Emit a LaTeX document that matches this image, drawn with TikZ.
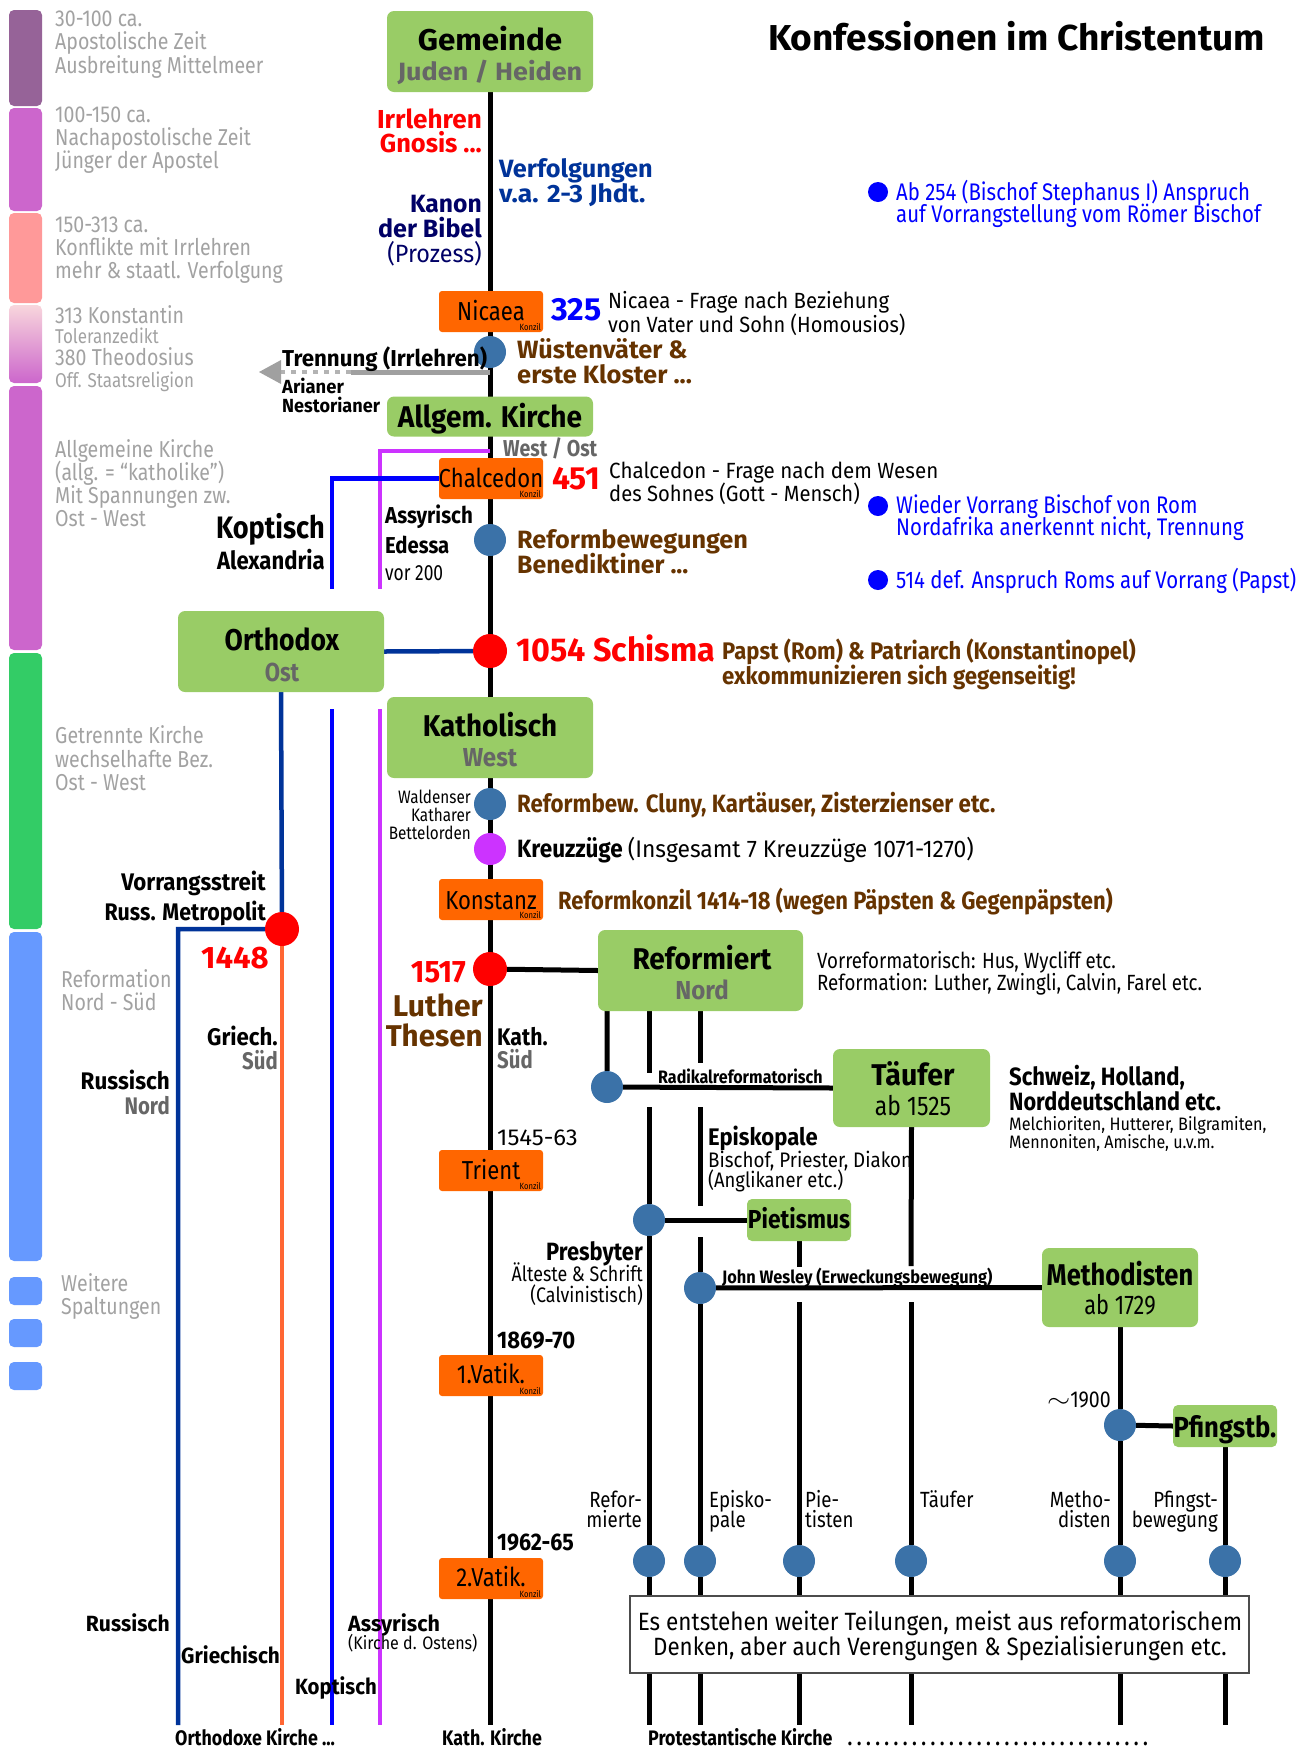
\documentclass[tikz,border=0pt]{standalone}
\usepackage{fontspec}
\usepackage{graphicx}
\setmainfont{Fira Sans}[FakeStretch=0.85]
\usetikzlibrary{arrows.meta}
\pgfdeclarelayer{bg}
\pgfsetlayers{bg,main}
\definecolor{gboxc}{HTML}{99CC66}
\definecolor{orgc}{HTML}{FF6600}
\definecolor{dotc}{HTML}{3B72A8}
\definecolor{brn}{HTML}{663300}
\definecolor{dgray}{HTML}{666666}
\definecolor{lgray}{HTML}{A2A2A2}
\definecolor{navyc}{HTML}{003399}
\definecolor{dnavy}{HTML}{000066}
\definecolor{purc}{HTML}{CC33FF}
\definecolor{olin}{HTML}{FF6633}
\definecolor{barA}{HTML}{966398}
\definecolor{barB}{HTML}{CC66CC}
\definecolor{barC}{HTML}{FF9999}
\definecolor{barD}{HTML}{F8D6DC}
\definecolor{barE}{HTML}{33CC66}
\definecolor{barF}{HTML}{6699FF}
\definecolor{arrg}{HTML}{A0A0A0}
\definecolor{redc}{HTML}{FF0000}
\definecolor{bluc}{HTML}{0000FF}
\newcommand\fR[1]{\fontsize{#1}{#1}\selectfont}
\newcommand\fB[1]{\fontsize{#1}{#1}\selectfont\bfseries}
\newcommand\sx[2]{\scalebox{#1}[1]{#2}}
\tikzset{
 gbox/.style={fill=gboxc, rounded corners=7pt, inner sep=0pt},
 obox/.style={fill=orgc, rounded corners=3pt, minimum width=104pt, minimum height=41pt, inner sep=0pt},
 bdot/.style={circle, fill=dotc, minimum size=32pt, inner sep=0pt},
 rdot/.style={circle, fill=redc, minimum size=34pt, inner sep=0pt},
 pdot/.style={circle, fill=purc, minimum size=32pt, inner sep=0pt},
 udot/.style={circle, fill=bluc, minimum size=20pt, inner sep=0pt},
 lt/.style={inner sep=0pt, anchor=base west},
 rt/.style={inner sep=0pt, anchor=base east},
 ct/.style={inner sep=0pt, anchor=base},
 per/.style={lt, lgray, font=\fR{23}},
 konz/.style={rt, font=\fR{9}},
 bl/.style={line width=5pt, black},
 cl/.style={line width=4.5pt},
}
\begin{document}
\begin{tikzpicture}[x=1pt,y=-1pt]
\useasboundingbox (0,0) rectangle (1312,1749);
% ---------- period bars ----------
\fill[barA, rounded corners=5pt] (9,10) rectangle (42,106);
\fill[barB, rounded corners=5pt] (9,108) rectangle (42,211);
\fill[barC, rounded corners=5pt] (9,213) rectangle (42,303);
\shade[top color=barD, bottom color=barB, rounded corners=5pt] (9,305) rectangle (42,383);
\fill[barB, rounded corners=5pt] (9,386) rectangle (42,650);
\fill[barE, rounded corners=5pt] (9,653) rectangle (42,929);
\fill[barF, rounded corners=5pt] (9,932) rectangle (42,1261);
\fill[barF, rounded corners=5pt] (9,1277) rectangle (42,1305);
\fill[barF, rounded corners=5pt] (9,1319) rectangle (42,1347);
\fill[barF, rounded corners=5pt] (9,1362) rectangle (42,1390);
% ---------- period texts ----------
\node[per] (p1a) at (55,26) {30-100 ca.};
\node[per] (p1b) at (55,49) {Apostolische Zeit};
\node[per] (p1c) at (55,73) {Ausbreitung Mittelmeer};
\node[per] (p2a) at (55,122) {100-150 ca.};
\node[per] (p2b) at (55,145) {Nachapostolische Zeit};
\node[per] (p2c) at (55,168) {Jünger der Apostel};
\node[per] (p3a) at (55,232) {150-313 ca.};
\node[per] (p3b) at (55,255) {Konflikte mit Irrlehren};
\node[per] (p3c) at (55,278) {mehr \& staatl. Verfolgung};
\node[per] (p4a) at (55,323) {313 Konstantin};
\node[per, font=\fR{20}] (p4b) at (55,343) {Toleranzedikt};
\node[per] (p4c) at (55,365) {380 Theodosius};
\node[per, font=\fR{20}] (p4d) at (55,387) {Off. Staatsreligion};
\node[per] (p5a) at (55,457) {Allgemeine Kirche};
\node[per] (p5b) at (55,480) {(allg. = “katholike”)};
\node[per] (p5c) at (55,503) {Mit Spannungen zw.};
\node[per] (p5d) at (55,526) {Ost - West};
\node[per] (p6a) at (55,743) {Getrennte Kirche};
\node[per] (p6b) at (55,767) {wechselhafte Bez.};
\node[per] (p6c) at (55,790) {Ost - West};
\node[per] (p7a) at (61,987) {Reformation};
\node[per] (p7b) at (61,1010) {Nord - Süd};
\node[per] (p8a) at (61,1291) {Weitere};
\node[per] (p8b) at (61,1314) {Spaltungen};
% ---------- title ----------
\node[lt, font=\fB{36}] (title) at (768,50) {\sx{1.21}{Konfessionen im Christentum}};
% ---------- main boxes ----------
\node[gbox, minimum width=206pt, minimum height=81pt] (gem) at (490,51.5) {};
\node[ct, font=\fB{30}] (gemt) at (490,50) {\sx{1.23}{Gemeinde}};
\node[ct, dgray, font=\fB{25}] (gems) at (490,80) {\sx{1.27}{Juden / Heiden}};
\node[gbox, minimum width=206pt, minimum height=40pt] (allg) at (490,416.5) {};
\node[ct, font=\fB{30}] (allgt) at (490,427) {\sx{1.1}{Allgem. Kirche}};
\node[gbox, minimum width=206pt, minimum height=81pt] (orth) at (281,651.5) {};
\node[ct, font=\fB{30}] (ortht) at (282,650) {\sx{1.04}{Orthodox}};
\node[ct, dgray, font=\fB{26}] (orths) at (282,681) {Ost};
\node[gbox, minimum width=206pt, minimum height=81pt] (kath) at (490,737.5) {};
\node[ct, font=\fB{30}] (katht) at (490,736) {\sx{1.09}{Katholisch}};
\node[ct, dgray, font=\fB{26}] (kaths) at (490,766) {\sx{1.09}{West}};
\node[gbox, minimum width=205pt, minimum height=81pt] (ref) at (700.5,970.5) {};
\node[ct, font=\fB{30}] (reft) at (702,969) {\sx{1.1}{Reformiert}};
\node[ct, dgray, font=\fB{26}] (refs) at (702,999) {\sx{1.09}{Nord}};
\node[gbox, minimum width=157pt, minimum height=78pt] (tauf) at (911.5,1088) {};
\node[ct, font=\fB{30}] (tauft) at (913,1085) {\sx{1.12}{Täufer}};
\node[ct, font=\fR{27}] (taufs) at (913,1115) {ab 1525};
\node[gbox, minimum width=104pt, minimum height=42pt, rounded corners=5pt] (piet) at (799,1220) {};
\node[ct, font=\fB{26}] (piett) at (799,1228) {\sx{1.03}{Pietismus}};
\node[gbox, minimum width=156pt, minimum height=79pt] (meth) at (1120,1287.5) {};
\node[ct, font=\fB{30}] (metht) at (1120,1285) {Methodisten};
\node[ct, font=\fR{27}] (meths) at (1120,1314) {\sx{0.95}{ab 1729}};
\node[gbox, minimum width=104pt, minimum height=42pt, rounded corners=5pt] (pf) at (1225,1426) {};
\node[ct, font=\fB{29}] (pft) at (1225,1437) {\sx{1.04}{Pfingstb.}};
% ---------- councils ----------
\node[obox] (nic) at (491,311.5) {};
\node[ct, font=\fR{26}] (nict) at (491,320) {Nicaea};
\node[konz] (nick) at (541,330) {Konzil};
\node[obox] (chal) at (491,478.5) {};
\node[ct, font=\fR{26}] (chalt) at (491,487) {Chalcedon};
\node[konz] (chalk) at (541,497) {Konzil};
\node[obox] (konst) at (491,899.5) {};
\node[ct, font=\fR{26}] (konstt) at (491,909) {Konstanz};
\node[konz] (konstk) at (541,918) {Konzil};
\node[obox] (trient) at (491,1170.5) {};
\node[ct, font=\fR{26}] (trientt) at (491,1179) {Trient};
\node[konz] (trientk) at (541,1189) {Konzil};
\node[obox] (vat1) at (491,1375.5) {};
\node[ct, font=\fR{26}] (vat1t) at (491,1383) {1.Vatik.};
\node[konz] (vat1k) at (541,1394) {Konzil};
\node[obox] (vat2) at (491,1578.5) {};
\node[ct, font=\fR{26}] (vat2t) at (491,1586) {2.Vatik.};
\node[konz] (vat2k) at (541,1597) {Konzil};
% ---------- dots ----------
\node[bdot] (dw) at (490,352) {};
\node[bdot] (dben) at (490,540) {};
\node[rdot] (dsch) at (490,651) {};
\node[bdot] (dclu) at (490,804) {};
\node[pdot] (dkr) at (490,849) {};
\node[rdot] (d1517) at (490,969) {};
\node[rdot] (d1448) at (282,929) {};
\node[bdot] (drad) at (607,1087) {};
\node[bdot] (dpres) at (649,1220) {};
\node[bdot] (dwes) at (700,1288) {};
\node[bdot] (dpf) at (1120,1425) {};
\node[bdot] (bref) at (649,1561) {};
\node[bdot] (bepi) at (700,1561) {};
\node[bdot] (bpie) at (799,1561) {};
\node[bdot] (btau) at (911,1561) {};
\node[bdot] (bmet) at (1120,1561) {};
\node[bdot] (bpfi) at (1225,1561) {};
\node[udot] (u1) at (878,192) {};
\node[udot] (u2) at (878,506) {};
\node[udot] (u3) at (878,580) {};
% ---------- end coordinates ----------
\coordinate (eK) at (490,1725);
\coordinate (eRu) at (178,1725);
\coordinate (eGr) at (282,1725);
\coordinate (eKo) at (332,1725);
\coordinate (eAs) at (380,1725);
\coordinate (sKo) at (332,709);
\coordinate (sAs) at (380,709);
\coordinate (cRu) at (178,929);
\coordinate (pj) at (490,451);
\coordinate (pc) at (380,451);
\coordinate (pe) at (380,589);
\coordinate (bc) at (332,478.5);
\coordinate (be) at (332,589);
\coordinate (tsplit) at (490,372);
\coordinate (tmid) at (351,372);
\coordinate (tdash) at (281,372);
\coordinate (ttip) at (259,372);
% ---------- lines ----------
\begin{pgfonlayer}{bg}
\draw[bl] (gem.south) -- (eK);
\draw[arrg, line width=5pt] (tsplit) -- (tmid);
\draw[arrg!80, line width=4pt, dash pattern=on 5pt off 6pt] (tmid) -- (tdash);
\fill[arrg] (ttip) -- ++(22,-12) -- ++(0,24) -- cycle;
\draw[purc, cl] (pj) -- (pc) -- (pe);
\draw[bluc, cl] (chal.west) -- (bc) -- (be);
\draw[navyc, cl] (orth.east) -- (dsch);
\draw[navyc, cl] (orth.south) -- (d1448) -- (cRu) -- (eRu);
\draw[olin, cl] (d1448) -- (eGr);
\draw[bluc, cl] (sKo) -- (eKo);
\draw[purc, cl] (sAs) -- (eAs);
\draw[bl] (d1517) -- (ref.west);
\draw[bl] (ref.south -| drad) -- (drad) -- (tauf.west);
\draw[bl] (ref.south -| dpres) -- (649,1073);
\draw[bl] (649,1107) -- (dpres) -- (bref) -- (649,1725);
\draw[bl] (ref.south -| dwes) -- (700,1063);
\draw[bl] (700,1107) -- (700,1206);
\draw[bl] (700,1237) -- (dwes) -- (bepi) -- (700,1725);
\draw[bl] (dpres) -- (piet.west);
\draw[bl] (piet.south) -- (799,1267);
\draw[bl] (799,1302) -- (bpie) -- (799,1725);
\draw[bl] (tauf.south) -- (911,1266);
\draw[bl] (911,1302) -- (btau) -- (911,1725);
\draw[bl] (dwes) -- (meth.west);
\draw[bl] (meth.south) -- (dpf) -- (bmet) -- (1120,1725);
\draw[bl] (dpf) -- (pf.west);
\draw[bl] (pf.south) -- (bpfi) -- (1225,1725);
\end{pgfonlayer}
% ---------- texts along the spine ----------
\node[rt, redc, font=\fB{26}] (irr1) at (482,128) {\sx{1.18}{Irrlehren}};
\node[rt, redc, font=\fB{26}] (irr2) at (482,152) {\sx{1.15}{Gnosis ...}};
\node[lt, navyc, font=\fB{25}] (ver1) at (499,177) {\sx{1.19}{Verfolgungen}};
\node[lt, navyc, font=\fB{25}] (ver2) at (499,202) {\sx{1.24}{v.a. 2-3 Jhdt.}};
\node[rt, dnavy, font=\fB{25}] (kan1) at (482,212) {\sx{1.16}{Kanon}};
\node[rt, dnavy, font=\fB{25}] (kan2) at (482,237) {\sx{1.18}{der Bibel}};
\node[rt, dnavy, font=\fR{25}] (kan3) at (482,262) {\sx{1.1}{(Prozess)}};
\node[lt, bluc, font=\fR{24}] (u1a) at (896,200) {Ab 254 (Bischof Stephanus I) Anspruch};
\node[lt, bluc, font=\fR{24}] (u1b) at (896,222) {auf Vorrangstellung vom Römer Bischof};
\node[lt, bluc, font=\fB{32}] (n325) at (551,320) {\sx{1.18}{325}};
\node[lt, font=\fR{22}] (nd1) at (608,308) {\sx{1.09}{Nicaea - Frage nach Beziehung}};
\node[lt, font=\fR{22}] (nd2) at (608,332) {\sx{1.07}{von Vater und Sohn (Homousios)}};
\node[lt, brn, font=\fB{25}] (wu1) at (517,358) {\sx{1.19}{Wüstenväter \&}};
\node[lt, brn, font=\fB{25}] (wu2) at (517,383) {\sx{1.2}{erste Kloster ...}};
\node[lt, font=\fB{23}] (tr1) at (282,366) {\sx{1.14}{Trennung (Irrlehren)}};
\node[lt, font=\fB{19}] (tr2) at (282,393) {\sx{1.14}{Arianer}};
\node[lt, font=\fB{19}] (tr3) at (282,412) {\sx{1.12}{Nestorianer}};
\node[lt, dgray, font=\fB{23}] (wo) at (503,456) {West / Ost};
\node[lt, redc, font=\fB{32}] (n451) at (552,489) {\sx{1.17}{451}};
\node[lt, font=\fR{22}] (cd1) at (609,478) {\sx{1.1}{Chalcedon - Frage nach dem Wesen}};
\node[lt, font=\fR{22}] (cd2) at (609,501) {\sx{1.08}{des Sohnes (Gott - Mensch)}};
\node[rt, font=\fB{31}] (kop1) at (325,538) {\sx{1.03}{Koptisch}};
\node[rt, font=\fB{25}] (kop2) at (325,569) {\sx{1.04}{Alexandria}};
\node[lt, font=\fB{23}] (as1) at (385,523) {\sx{1.05}{Assyrisch}};
\node[lt, font=\fB{23}] (as2) at (385,553) {\sx{1.04}{Edessa}};
\node[lt, font=\fR{22}] (as3) at (385,580) {\sx{0.93}{vor 200}};
\node[lt, brn, font=\fB{25}] (rb1) at (517,548) {\sx{1.19}{Reformbewegungen}};
\node[lt, brn, font=\fB{25}] (rb2) at (517,573) {\sx{1.17}{Benediktiner ...}};
\node[lt, bluc, font=\fR{24}] (u2a) at (896,513) {Wieder Vorrang Bischof von Rom};
\node[lt, bluc, font=\fR{24}] (u2b) at (896,535) {Nordafrika anerkennt nicht, Trennung};
\node[lt, bluc, font=\fR{24}] (u3a) at (896,588) {514 def. Anspruch Roms auf Vorrang (Papst)};
\node[lt, redc, font=\fB{33}] (sch) at (516,661) {\sx{1.15}{1054 Schisma}};
\node[lt, brn, font=\fB{24}] (sc1) at (722,659) {\sx{1.08}{Papst (Rom) \& Patriarch (Konstantinopel)}};
\node[lt, brn, font=\fB{24}] (sc2) at (722,684) {\sx{1.09}{exkommunizieren sich gegenseitig!}};
\node[lt, brn, font=\fB{25}] (clu) at (517,812) {\sx{1.05}{Reformbew. Cluny, Kartäuser, Zisterzienser etc.}};
\node[rt, font=\fR{18}] (wa1) at (471,803) {Waldenser};
\node[rt, font=\fR{18}] (wa2) at (471,821) {Katharer};
\node[rt, font=\fR{18}] (wa3) at (471,839) {Bettelorden};
\node[lt, font=\fB{25}] (kr) at (517,857) {\sx{1.06}{Kreuzzüge} \fR{24}\mdseries\sx{1.12}{(Insgesamt 7 Kreuzzüge 1071-1270)}};
\node[lt, brn, font=\fB{25}] (rk) at (558,909) {\sx{1.035}{Reformkonzil 1414-18 (wegen Päpsten \& Gegenpäpsten)}};
\node[rt, font=\fB{24}] (vo1) at (266,890) {\sx{1.09}{Vorrangsstreit}};
\node[rt, font=\fB{24}] (vo2) at (266,920) {\sx{1.05}{Russ. Metropolit}};
\node[rt, redc, font=\fB{31}] (n1448) at (269,968) {\sx{1.18}{1448}};
\node[rt, redc, font=\fB{31}] (n1517) at (466,982) {\sx{1.11}{1517}};
\node[rt, brn, font=\fB{30}] (lu1) at (483,1016) {\sx{1.18}{Luther}};
\node[rt, brn, font=\fB{30}] (lu2) at (483,1046) {\sx{1.16}{Thesen}};
\node[lt, font=\fR{22}] (vr1) at (817,968) {Vorreformatorisch: Hus, Wycliff etc.};
\node[lt, font=\fR{22}] (vr2) at (817,990) {Reformation: Luther, Zwingli, Calvin, Farel etc.};
\node[lt, font=\fB{24}] (ks1) at (497,1045) {\sx{1.04}{Kath.}};
\node[lt, dgray, font=\fB{24}] (ks2) at (497,1068) {Süd};
\node[rt, font=\fB{24}] (gs1) at (278,1045) {\sx{1.09}{Griech.}};
\node[rt, dgray, font=\fB{24}] (gs2) at (278,1069) {Süd};
\node[rt, font=\fB{24}] (rn1) at (170,1089) {\sx{1.1}{Russisch}};
\node[rt, dgray, font=\fB{24}] (rn2) at (170,1114) {Nord};
\node[lt, font=\fB{18}] (radt) at (658,1083) {\sx{1.05}{Radikalreformatorisch}};
\node[lt, font=\fB{25}] (sw1) at (1009,1085) {\sx{1.04}{Schweiz, Holland,}};
\node[lt, font=\fB{25}] (sw2) at (1009,1110) {\sx{1.02}{Norddeutschland etc.}};
\node[lt, font=\fR{18}] (sw3) at (1009,1130) {\sx{1.06}{Melchioriten, Hutterer, Bilgramiten,}};
\node[lt, font=\fR{18}] (sw4) at (1009,1148) {\sx{1.05}{Mennoniten, Amische, u.v.m.}};
\node[lt, font=\fB{24}] (ep1) at (708,1145) {\sx{1.08}{Episkopale}};
\node[lt, font=\fR{21}] (ep2) at (708,1167) {\sx{1.05}{Bischof, Priester, Diakon}};
\node[lt, font=\fR{21}] (ep3) at (708,1187) {\sx{1.03}{(Anglikaner etc.)}};
\node[lt, font=\fR{23}] (y1545) at (497,1145) {\sx{1.22}{1545-63}};
\node[rt, font=\fB{25}] (pr1) at (643,1260) {\sx{1.03}{Presbyter}};
\node[rt, font=\fR{21}] (pr2) at (643,1281) {Älteste \& Schrift};
\node[rt, font=\fR{21}] (pr3) at (643,1302) {(Calvinistisch)};
\node[lt, font=\fB{18}] (jw) at (722,1283) {\sx{1.07}{John Wesley (Erweckungsbewegung)}};
\node[rt, font=\fR{23}] (y1900) at (1111,1407) {\sx{1.2}{$\sim$}1900};
\node[lt, font=\fB{24}] (y1869) at (497,1348) {\sx{1.08}{1869-70}};
\node[lt, font=\fB{24}] (y1962) at (497,1550) {\sx{1.05}{1962-65}};
% ---------- bottom column labels ----------
\node[rt, font=\fR{22}] (lb1a) at (642,1507) {Refor-};
\node[rt, font=\fR{22}] (lb1b) at (642,1527) {mierte};
\node[lt, font=\fR{22}] (lb2a) at (709,1507) {Episko-};
\node[lt, font=\fR{22}] (lb2b) at (709,1527) {pale};
\node[lt, font=\fR{22}] (lb3a) at (805,1507) {Pie-};
\node[lt, font=\fR{22}] (lb3b) at (805,1527) {tisten};
\node[lt, font=\fR{22}] (lb4a) at (920,1507) {Täufer};
\node[rt, font=\fR{22}] (lb5a) at (1111,1507) {Metho-};
\node[rt, font=\fR{22}] (lb5b) at (1111,1527) {disten};
\node[rt, font=\fR{22}] (lb6a) at (1218,1507) {Pfingst-};
\node[rt, font=\fR{22}] (lb6b) at (1218,1527) {bewegung};
% ---------- note ----------
\node[draw=black!70, fill=white, line width=1.5pt, minimum width=619pt, minimum height=77pt, inner sep=0pt] (note) at (939.5,1634.5) {};
\node[ct, font=\fR{25}] (no1) at (940,1630) {\sx{1.06}{Es entstehen weiter Teilungen, meist aus reformatorischem}};
\node[ct, font=\fR{25}] (no2) at (940,1655) {\sx{1.05}{Denken, aber auch Verengungen \& Spezialisierungen etc.}};
% ---------- bottom left labels ----------
\node[rt, font=\fB{22}] (bl1) at (170,1631) {\sx{1.13}{Russisch}};
\node[lt, font=\fB{22}] (bl2) at (181,1663) {\sx{1.11}{Griechisch}};
\node[lt, font=\fB{22}] (bl3) at (295,1694) {\sx{1.09}{Koptisch}};
\node[lt, font=\fB{22}] (bl4) at (348,1631) {\sx{1.15}{Assyrisch}};
\node[lt, font=\fR{18}] (bl5) at (348,1649) {\sx{1.05}{(Kirche d. Ostens)}};
% ---------- footer ----------
\node[lt, font=\fB{21}] (f1) at (175,1745) {Orthodoxe Kirche ...};
\node[lt, font=\fB{21}] (f2) at (442,1745) {Kath. Kirche};
\node[lt, font=\fB{21}] (f3) at (648,1745) {Protestantische Kirche};
\node[lt, font=\fB{21}] (f4) at (845,1745) {\makebox[305pt]{\xleaders\hbox to 9pt{\hss.\hss}\hfill}};
\end{tikzpicture}
\end{document}
